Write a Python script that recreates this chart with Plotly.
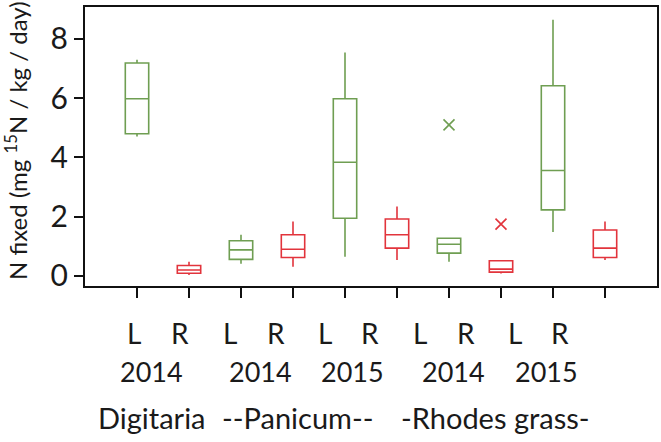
import plotly.graph_objects as go

# ---- data ----
green_x = [0, 2, 4, 6, 8]
green_q1 = [4.80, 0.56, 1.95, 0.77, 2.23]
green_med = [5.98, 0.88, 3.84, 1.07, 3.56]
green_q3 = [7.19, 1.19, 5.98, 1.27, 6.42]
green_lo = [4.71, 0.41, 0.65, 0.48, 1.48]
green_hi = [7.30, 1.39, 7.54, 1.27, 8.65]

red_x = [1, 3, 5, 7, 9]
red_q1 = [0.09, 0.62, 0.94, 0.13, 0.62]
red_med = [0.20, 0.90, 1.39, 0.23, 0.94]
red_q3 = [0.35, 1.39, 1.92, 0.51, 1.55]
red_lo = [0.03, 0.31, 0.54, 0.08, 0.54]
red_hi = [0.48, 1.84, 2.34, 0.51, 1.84]

green_out_x = [6]
green_out_y = [5.10]
red_out_x = [7]
red_out_y = [1.75]

lr_labels = ["L", "R", "L", "R", "L", "R", "L", "R", "L", "R"]
lr_pos = [-0.05, 0.83, 1.78, 2.68, 3.62, 4.49, 5.45, 6.33, 7.26, 8.14]
year_labels = ["2014", "2014", "2015", "2014", "2015"]
year_pos = [0.28, 2.37, 4.14, 6.08, 7.88]
species_labels = ["Digitaria", "--Panicum--", "-Rhodes grass-"]
species_pos = [0.28, 3.08, 6.89]
y_ticks = [0, 2, 4, 6, 8]

GREEN = "#6f9e52"
RED = "#e2343c"
FONT = "Lato"
TXT = "#1a1a1a"

fig = go.Figure()
fig.add_trace(go.Box(x=green_x, q1=green_q1, median=green_med, q3=green_q3,
                     lowerfence=green_lo, upperfence=green_hi,
                     width=0.45, whiskerwidth=0, line=dict(color=GREEN, width=1.6),
                     fillcolor="rgba(0,0,0,0)", boxpoints=False, showlegend=False))
fig.add_trace(go.Box(x=red_x, q1=red_q1, median=red_med, q3=red_q3,
                     lowerfence=red_lo, upperfence=red_hi,
                     width=0.45, whiskerwidth=0, line=dict(color=RED, width=1.6),
                     fillcolor="rgba(0,0,0,0)", boxpoints=False, showlegend=False))
fig.add_trace(go.Scatter(x=green_out_x, y=green_out_y, mode="markers",
                         marker=dict(symbol="x-thin", size=11, line=dict(color=GREEN, width=1.6)),
                         showlegend=False))
fig.add_trace(go.Scatter(x=red_out_x, y=red_out_y, mode="markers",
                         marker=dict(symbol="x-thin", size=11, line=dict(color=RED, width=1.6)),
                         showlegend=False))

ann = []
for t, p in zip(lr_labels, lr_pos):
    ann.append(dict(text=t, x=p, xref="x", y=-0.168, yref="paper", showarrow=False,
                    xanchor="center", yanchor="middle", font=dict(size=28, color=TXT, family=FONT)))
for t, p in zip(year_labels, year_pos):
    ann.append(dict(text=t, x=p, xref="x", y=-0.305, yref="paper", showarrow=False,
                    xanchor="center", yanchor="middle", font=dict(size=27, color=TXT, family=FONT)))
for t, p in zip(species_labels, species_pos):
    ann.append(dict(text=t, x=p, xref="x", y=-0.47, yref="paper", showarrow=False,
                    xanchor="center", yanchor="middle", font=dict(size=29, color=TXT, family=FONT)))
ann.append(dict(text="N fixed (mg <sup>15</sup>N / kg / day)", textangle=-90,
                x=(16 - 85) / 572, xref="paper", y=(286 - 141) / 279, yref="paper",
                showarrow=False, xanchor="center", yanchor="middle",
                font=dict(size=24, color=TXT, family=FONT)))

fig.update_layout(
    width=661, height=442,
    margin=dict(l=85, r=4, t=7, b=156),
    paper_bgcolor="white", plot_bgcolor="white",
    annotations=ann,
    hovermode=False,
    xaxis=dict(range=[-1, 10], tickvals=list(range(10)), showticklabels=False,
               ticks="outside", ticklen=10, tickwidth=2, tickcolor="#111",
               showline=True, linewidth=2, linecolor="#111", mirror=True,
               showgrid=False, zeroline=False, automargin=False),
    yaxis=dict(range=[-0.34, 9.08], tickvals=y_ticks,
               ticks="outside", ticklen=9, tickwidth=2, tickcolor="#111",
               showline=True, linewidth=2, linecolor="#111", mirror=True,
               showgrid=False, zeroline=False, automargin=False,
               tickfont=dict(size=30, color=TXT, family=FONT)),
)
fig.write_html("out.html", config={"displayModeBar": False},
               post_script="document.body.style.margin='0px';")
